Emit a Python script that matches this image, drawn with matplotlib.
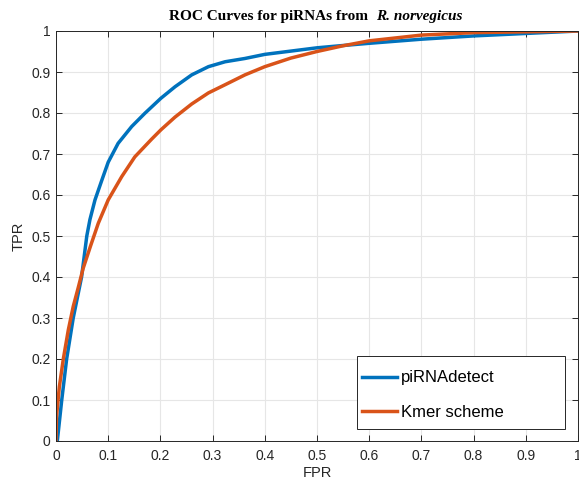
import matplotlib
matplotlib.use("Agg")
import matplotlib.pyplot as plt
from matplotlib.patches import Rectangle

# piRNAdetect ROC
fpr_pirna = [0, 0.0025, 0.011, 0.0204, 0.033, 0.049, 0.054, 0.059, 0.065, 0.0747, 0.0875, 0.100,
             0.119, 0.145, 0.170, 0.201, 0.228, 0.260, 0.292, 0.324, 0.362, 0.4, 0.45, 0.5,
             0.544, 0.6, 0.7, 0.8, 0.9, 1.0]
tpr_pirna = [0, 0, 0.1, 0.2, 0.3, 0.4, 0.45, 0.5, 0.54, 0.588, 0.635, 0.68,
             0.726, 0.767, 0.799, 0.836, 0.864, 0.893, 0.913, 0.925, 0.933, 0.943, 0.951, 0.959,
             0.964, 0.97, 0.98, 0.988, 0.994, 1.0]

# Kmer scheme ROC
fpr_kmer = [0, 0.001, 0.0064, 0.014, 0.0236, 0.033, 0.043, 0.052, 0.066, 0.081, 0.100, 0.126,
            0.151, 0.183, 0.201, 0.228, 0.260, 0.292, 0.324, 0.362, 0.4, 0.45, 0.5, 0.55,
            0.6, 0.7, 0.8, 0.9, 1.0]
tpr_kmer = [0, 0.06, 0.132, 0.2, 0.271, 0.328, 0.376, 0.421, 0.475, 0.531, 0.588, 0.645,
            0.693, 0.736, 0.759, 0.79, 0.822, 0.849, 0.869, 0.893, 0.913, 0.934, 0.95, 0.964,
            0.976, 0.99, 0.996, 0.998, 1.0]

labels = ["piRNAdetect", "Kmer scheme"]
colors = ["#0072BD", "#D95319"]
ticks = [0, 0.1, 0.2, 0.3, 0.4, 0.5, 0.6, 0.7, 0.8, 0.9, 1]
tick_labels = ["0", "0.1", "0.2", "0.3", "0.4", "0.5", "0.6", "0.7", "0.8", "0.9", "1"]

plt.rcParams['font.family'] = ['Liberation Sans', 'DejaVu Sans']

W, H = 579, 482
fig = plt.figure(figsize=(W / 100, H / 100), dpi=100)
ax = fig.add_axes([56 / W, (H - 441) / H, (578 - 56) / W, (441 - 31) / H])

ax.plot(fpr_pirna, tpr_pirna, color=colors[0], lw=2.5, label=labels[0])
ax.plot(fpr_kmer, tpr_kmer, color=colors[1], lw=2.5, label=labels[1])

ax.set_xlim(0, 1)
ax.set_ylim(0, 1)
ax.set_xticks(ticks)
ax.set_xticklabels(tick_labels)
ax.set_yticks(ticks)
ax.set_yticklabels(tick_labels)
ax.grid(True, color="#e6e6e6", lw=0.8)
ax.set_axisbelow(True)
ax.tick_params(direction='in', top=True, right=True, length=4, width=0.7,
               colors="#262626", labelsize=10)
ax.tick_params(axis='x', pad=6)
ax.tick_params(axis='y', pad=4)
for s in ax.spines.values():
    s.set_color("#262626")
    s.set_linewidth(0.7)

ax.set_xlabel("FPR", fontsize=10.5, color="#262626", labelpad=2)
ax.set_ylabel("TPR", fontsize=10.5, color="#262626", labelpad=4)

# title: bold roman + bold italic
xs = (372 - 56) / 522
ax.text(xs, 1.027, "ROC Curves for piRNAs from ", transform=ax.transAxes, ha='right',
        va='baseline', fontsize=11, fontweight='bold', family='Liberation Serif')
ax.text(xs + 4 / 522, 1.027, "R. norvegicus", transform=ax.transAxes, ha='left',
        va='baseline', fontsize=11, fontweight='bold', fontstyle='italic', family='Liberation Serif')

# legend box (MATLAB style, wide frame)
box = Rectangle(((357 - 56) / 522, (441 - 429) / 410), (565 - 357) / 522, (429 - 356) / 410,
                transform=ax.transAxes, facecolor='white', edgecolor='#262626', lw=0.7, zorder=5)
ax.add_patch(box)
leg = ax.legend(loc='center left', bbox_to_anchor=((362 - 56) / 522, (441 - 395) / 410),
                fontsize=12, frameon=False, handlelength=2.1, handletextpad=0.25,
                borderpad=0, labelspacing=1.15, borderaxespad=0)
leg.set_zorder(6)

fig.savefig("out.png", dpi=100)
